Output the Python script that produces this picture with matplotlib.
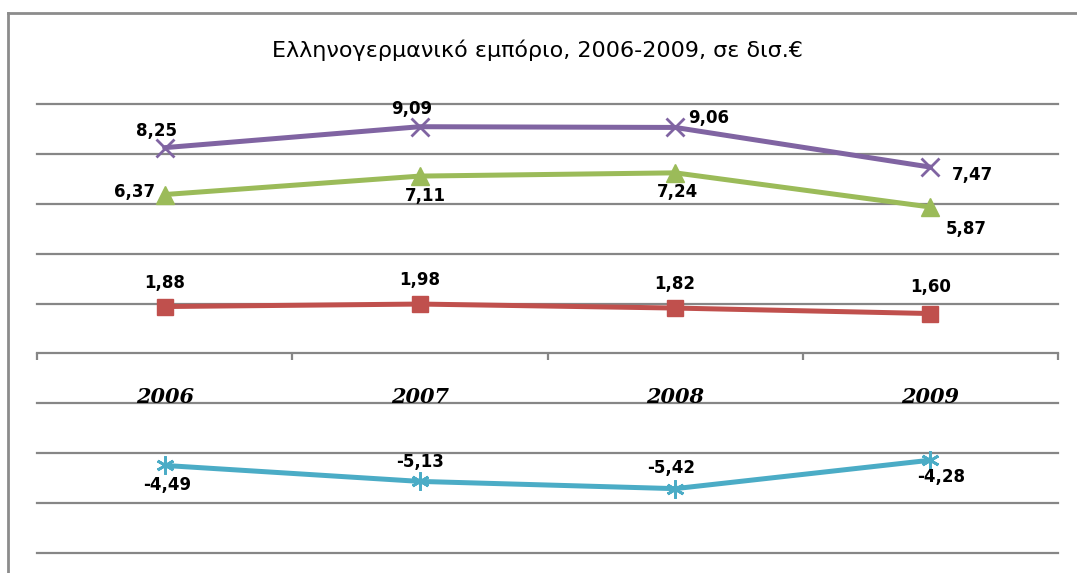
import matplotlib
matplotlib.use("Agg")
import matplotlib.pyplot as plt
from matplotlib.lines import Line2D

# data (values in billion euro)
years = ["2006", "2007", "2008", "2009"]
purple_vals = [8.25, 9.09, 9.06, 7.47]
green_vals = [6.37, 7.11, 7.24, 5.87]
red_vals = [1.88, 1.98, 1.82, 1.60]
cyan_vals = [-4.49, -5.13, -5.42, -4.28]

# label offsets in points (dx, dy) for each point of each series
purple_off = [(-6, 12), (-6, 13), (24, 7), (30, -6)]
green_off = [(-22, 2), (4, -14), (2, -14), (26, -16)]
red_off = [(0, 17), (0, 17), (0, 17), (0, 19)]
cyan_off = [(2, -14), (0, 14), (-3, 15), (8, -12)]

series = [
    (purple_vals, "#8064A2", "x", 13, purple_off),
    (green_vals, "#9BBB59", "^", 13, green_off),
    (red_vals, "#C0504D", "s", 11, red_off),
    (cyan_vals, "#4BACC6", (6, 2, 0), 13, cyan_off),
]

fig = plt.figure(figsize=(10.77, 5.73), dpi=100)
ax = fig.add_axes([37 / 1077, 1 - 553 / 573, (1058 - 37) / 1077, (553 - 104) / 573])

x = list(range(len(years)))
gridcol = "#868686"
for g in [-8, -6, -4, -2, 2, 4, 6, 8, 10]:
    ax.axhline(g, color=gridcol, lw=1.6, zorder=1, clip_on=False)

for vals, col, mk, ms, offs in series:
    ax.plot(x, vals, color=col, lw=3.6, marker=mk, markersize=ms,
            markeredgewidth=2 if mk in ("x", (6, 2, 0)) else 1,
            markeredgecolor=col, markerfacecolor=col, zorder=3,
            solid_capstyle="round")
    for xi, v, (dx, dy) in zip(x, vals, offs):
        ax.annotate(f"{v:.2f}".replace(".", ","), (xi, v), xytext=(dx, dy),
                    textcoords="offset points", ha="center", va="center",
                    fontsize=12, fontweight="bold", family="DejaVu Sans",
                    color="black", zorder=4)

ax.set_xlim(-0.5, 3.5)
ax.set_ylim(-8, 10)
ax.set_yticks([])
for s in ["top", "right", "left"]:
    ax.spines[s].set_visible(False)
ax.spines["bottom"].set_position(("data", 0))
ax.spines["bottom"].set_color(gridcol)
ax.spines["bottom"].set_linewidth(1.6)
ax.set_xticks([-0.5, 0.5, 1.5, 2.5, 3.5])
ax.set_xticklabels([])
ax.tick_params(axis="x", which="major", direction="out", length=5, width=1.6, color=gridcol)
ax.set_xticks(x, minor=True)
ax.set_xticklabels(years, minor=True, fontsize=15, fontweight="bold",
                   fontstyle="italic", family="DejaVu Serif")
ax.tick_params(axis="x", which="minor", length=0, pad=24)

fig.text(537 / 1077, 1 - 50 / 573, "Ελληνογερμανικό εμπόριο, 2006-2009, σε δισ.€",
         ha="center", va="center", fontsize=16, family="DejaVu Sans")

# chart frame (only top and left edges are visible in the crop)
fig.add_artist(Line2D([8 / 1077, 8 / 1077], [0, 1 - 13 / 573], color="#8c8c8c", lw=2,
                      transform=fig.transFigure))
fig.add_artist(Line2D([8 / 1077, 1], [1 - 13 / 573, 1 - 13 / 573], color="#8c8c8c", lw=2,
                      transform=fig.transFigure))

fig.savefig("out.png", dpi=100)
